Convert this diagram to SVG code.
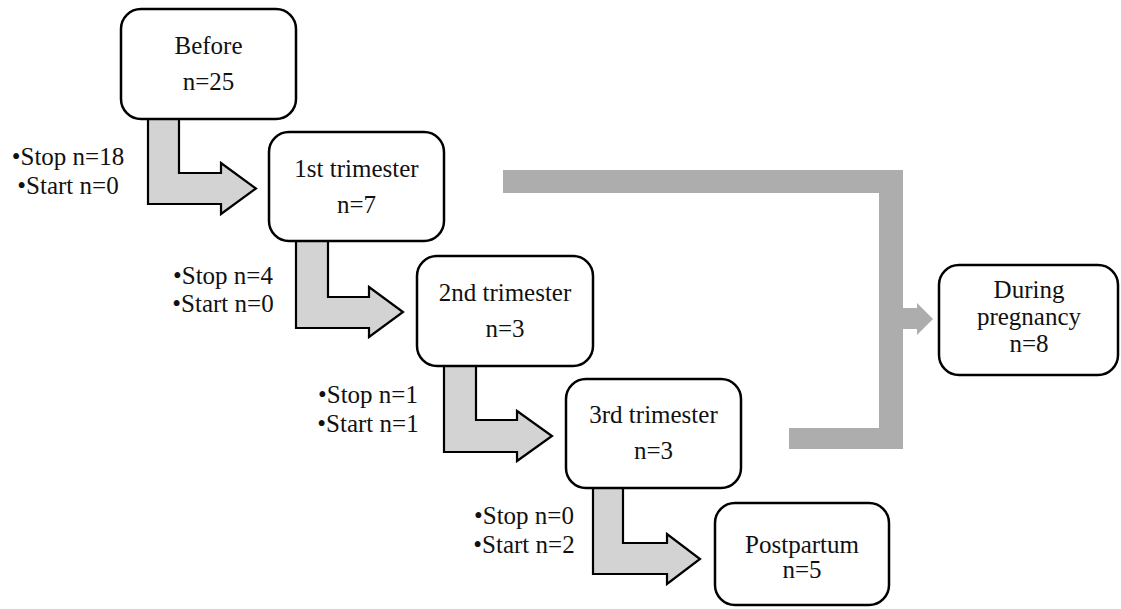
<svg xmlns="http://www.w3.org/2000/svg" width="1121" height="609" viewBox="0 0 1121 609">
<style>
.box{fill:#fff;stroke:#000;stroke-width:2.5}
.arr{fill:#d3d3d3;stroke:#000;stroke-width:2.2;stroke-linejoin:miter}
.br{fill:#adadad;stroke:none}
.t{font-family:'Liberation Serif','Times New Roman',Times,serif;font-size:25px;fill:#111;text-anchor:middle}
</style>
<rect width="1121" height="609" fill="#fff"/>
<g id="connectors">
<path class="arr" d="M148,119 L179,119 L179,173 L221,173 L221,163 L256,188.5 L221,214 L221,204 L148,204 Z"/>
<path class="arr" d="M296,241 L328,241 L328,297 L369,297 L369,287 L403,312 L369,337 L369,328 L296,328 Z"/>
<path class="arr" d="M444,366 L476,366 L476,420 L517,420 L517,411 L552,436 L517,461 L517,452 L444,452 Z"/>
<path class="arr" d="M593,488 L623,488 L623,543 L667,543 L667,534 L700,559 L667,584 L667,574 L593,574 Z"/>
<path class="br" d="M503,170 L903,170 L903,308 L917,308 L917,303 L933,319 L917,335 L917,329 L903,329 L903,449 L789,449 L789,428 L879,428 L879,193 L503,193 Z"/>
</g>
<g id="labels" class="t" font-family="Liberation Serif, serif">
<text class="t" x="68" y="165">•Stop n=18</text>
<text class="t" x="68" y="194">•Start n=0</text>
<text class="t" x="223" y="284">•Stop n=4</text>
<text class="t" x="223" y="312">•Start n=0</text>
<text class="t" x="368" y="403">•Stop n=1</text>
<text class="t" x="368" y="432">•Start n=1</text>
<text class="t" x="524" y="524">•Stop n=0</text>
<text class="t" x="524" y="553">•Start n=2</text>
</g>
<g id="before">
<rect class="box" x="121" y="9" width="175" height="110" rx="20"/>
<text class="t" x="208.5" y="54">Before</text>
<text class="t" x="208.5" y="90">n=25</text>
</g>
<g id="first">
<rect class="box" x="269" y="132" width="175" height="109" rx="20"/>
<text class="t" x="356.5" y="177">1st trimester</text>
<text class="t" x="356.5" y="213">n=7</text>
</g>
<g id="second">
<rect class="box" x="417" y="256" width="176" height="110" rx="20"/>
<text class="t" x="505" y="301">2nd trimester</text>
<text class="t" x="505" y="337">n=3</text>
</g>
<g id="third">
<rect class="box" x="566" y="379" width="175" height="109" rx="20"/>
<text class="t" x="653.5" y="423">3rd trimester</text>
<text class="t" x="653.5" y="459">n=3</text>
</g>
<g id="postpartum">
<rect class="box" x="715" y="503" width="174" height="102" rx="20"/>
<text class="t" x="802" y="553">Postpartum</text>
<text class="t" x="802" y="578">n=5</text>
</g>
<g id="during">
<rect class="box" x="939" y="265" width="179" height="110" rx="20"/>
<text class="t" x="1029" y="298">During</text>
<text class="t" x="1029" y="325">pregnancy</text>
<text class="t" x="1029" y="352">n=8</text>
</g>
</svg>
